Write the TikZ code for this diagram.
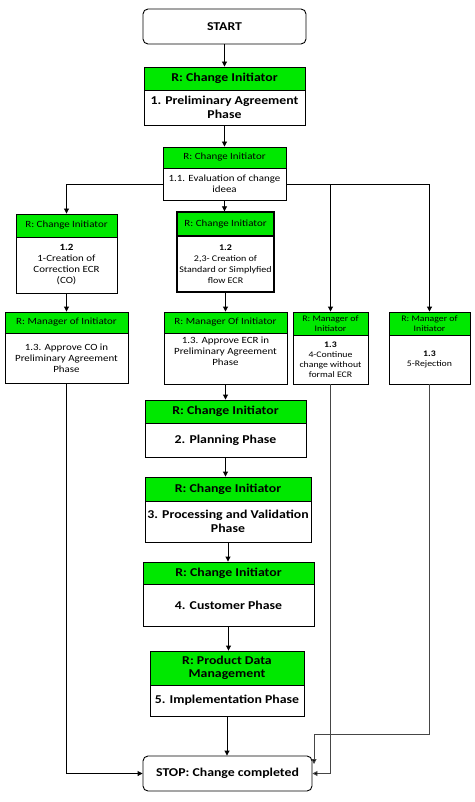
\documentclass[tikz,border=0pt]{standalone}
\usepackage{fontspec}
\setmainfont{Carlito}[FakeStretch=1.15]
\usetikzlibrary{arrows.meta}
\definecolor{grn}{RGB}{0,232,0}
\definecolor{ln}{RGB}{70,70,70}
\begin{document}
\begin{tikzpicture}[x=1pt,y=-1pt,
 box/.style={draw=black,line width=0.9pt,inner sep=1pt,align=center,anchor=center},
 hd/.style={box,fill=grn},
 big/.style={font=\fontsize{12}{13.5}\selectfont\bfseries},
 sm/.style={font=\fontsize{9.5}{11}\selectfont},
 xs/.style={font=\fontsize{8.5}{10}\selectfont},
 term/.style={box,rounded corners=5pt,big},
 arr/.style={-{Triangle[length=5pt,width=5pt]},line width=0.9pt},
 garr/.style={arr,draw=ln,-{Triangle[length=5pt,width=5pt,fill=black]}}]
\useasboundingbox (0,0) rectangle (474,802);
\fill[white] (0,0) rectangle (474,802);

% START
\node[term,minimum width=163,minimum height=35] (start) at (224.5,26.5) {START};
% 1. Preliminary Agreement
\node[hd,big,minimum width=161,minimum height=23] (b1h) at (224.5,78.5) {R: Change Initiator};
\node[box,big,minimum width=161,minimum height=35] (b1b) at (224.5,107.5) {1. Preliminary Agreement\\Phase};
% 1.1
\node[hd,sm,minimum width=123,minimum height=21] (b11h) at (224.5,157.5) {R: Change Initiator};
\node[box,sm,minimum width=123,minimum height=32] (b11b) at (224.5,184) {1.1. Evaluation of change\\ideea};
% 1.2 left
\node[hd,sm,minimum width=101,minimum height=23] (b12lh) at (66.5,225.5) {R: Change Initiator};
\node[box,sm,minimum width=101,minimum height=56] (b12lb) at (66.5,265) {\textbf{1.2}\\1-Creation of\\Correction ECR\\(CO)};
% 1.2 middle
\node[hd,sm,line width=1.4pt,inner sep=0pt,minimum width=97,minimum height=24] (b12mh) at (225.5,224) {R: Change Initiator};
\node[box,line width=1.4pt,inner sep=0pt,font=\fontsize{8.7}{11}\selectfont,minimum width=97,minimum height=56] (b12mb) at (225.5,264) {\textbf{1.2}\\2,3- Creation of\\Standard or Simplyfied\\flow ECR};
% 1.3 left
\node[hd,sm,minimum width=123,minimum height=21] (b13lh) at (66.5,322.5) {R: Manager of Initiator};
\node[box,sm,minimum width=123,minimum height=50] (b13lb) at (66.5,358) {1.3. Approve CO in\\Preliminary Agreement\\Phase};
% 1.3 middle
\node[hd,sm,minimum width=123,minimum height=21] (b13mh) at (225.5,322.5) {R: Manager Of Initiator};
\node[box,sm,minimum width=123,minimum height=51] (b13mb) at (225.5,358.5) {1.3. Approve ECR in\\Preliminary Agreement\\Phase\\[3pt]};
% 1.3 4-Continue
\node[hd,xs,minimum width=75,minimum height=23] (b4h) at (330.5,323.5) {R: Manager of\\Initiator};
\node[box,xs,minimum width=75,minimum height=49] (b4b) at (330.5,359.5) {\textbf{1.3}\\4-Continue\\change without\\formal ECR};
% 1.3 5-Rejection
\node[hd,xs,minimum width=81,minimum height=23] (b5h) at (429.5,323.5) {R: Manager of\\Initiator};
\node[box,xs,minimum width=81,minimum height=49] (b5b) at (429.5,359.5) {\textbf{1.3}\\5-Rejection};
% 2. Planning
\node[hd,big,minimum width=161,minimum height=23] (b2h) at (225.5,411.5) {R: Change Initiator};
\node[box,big,minimum width=161,minimum height=34] (b2b) at (225.5,440) {2. Planning Phase};
% 3. Processing
\node[hd,big,minimum width=166,minimum height=24] (b3h) at (228,489) {R: Change Initiator};
\node[box,big,minimum width=166,minimum height=41] (b3b) at (228,521.5) {3. Processing and Validation\\Phase};
% 4. Customer
\node[hd,big,minimum width=171,minimum height=22] (b4ch) at (228.5,573) {R: Change Initiator};
\node[box,big,minimum width=171,minimum height=42] (b4cb) at (228.5,605) {4. Customer Phase};
% 5. Implementation
\node[hd,big,minimum width=154,minimum height=34] (b5ih) at (227,668) {R: Product Data\\Management};
\node[box,big,minimum width=154,minimum height=31] (b5ib) at (227,700.5) {5. Implementation Phase};
% STOP
\node[term,minimum width=169,minimum height=35] (stop) at (227.5,773.5) {STOP: Change completed};

\coordinate (bend) at (314,734);
\coordinate (stopin) at (314,764);

% connectors
\draw[arr] (start.south) -- (b1h.north);
\draw[arr] (b1b.south) -- (b11h.north);
\draw[arr] (b11b.south) -- (b11b.south |- b12mh.north);
\draw[arr] (b11b.west) -| (b12lh.north);
\draw[arr] (b11b.east) -| (b4h.north);
\draw[arr] (b11b.east) -| (b5h.north);
\draw[arr] (b12lb.south) -- (b12lb.south |- b13lh.north);
\draw[arr] (b12mb.south) -- (b13mh.north);
\draw[arr] (b13mb.south) -- (b2h.north);
\draw[arr] (b2b.south) -- (b2b.south |- b3h.north);
\draw[arr] (b3b.south) -- (b3b.south |- b4ch.north);
\draw[arr] (b4cb.south) -- (b4cb.south |- b5ih.north);
\draw[arr] (b5ib.south) -- (b5ib.south |- stop.north);
\draw[arr] (b13lb.south) |- (stop.west);
\draw[garr] (b4b.south) |- (stop.east);
\draw[garr] (b5b.south) |- (bend) -- (stopin);
\end{tikzpicture}
\end{document}
